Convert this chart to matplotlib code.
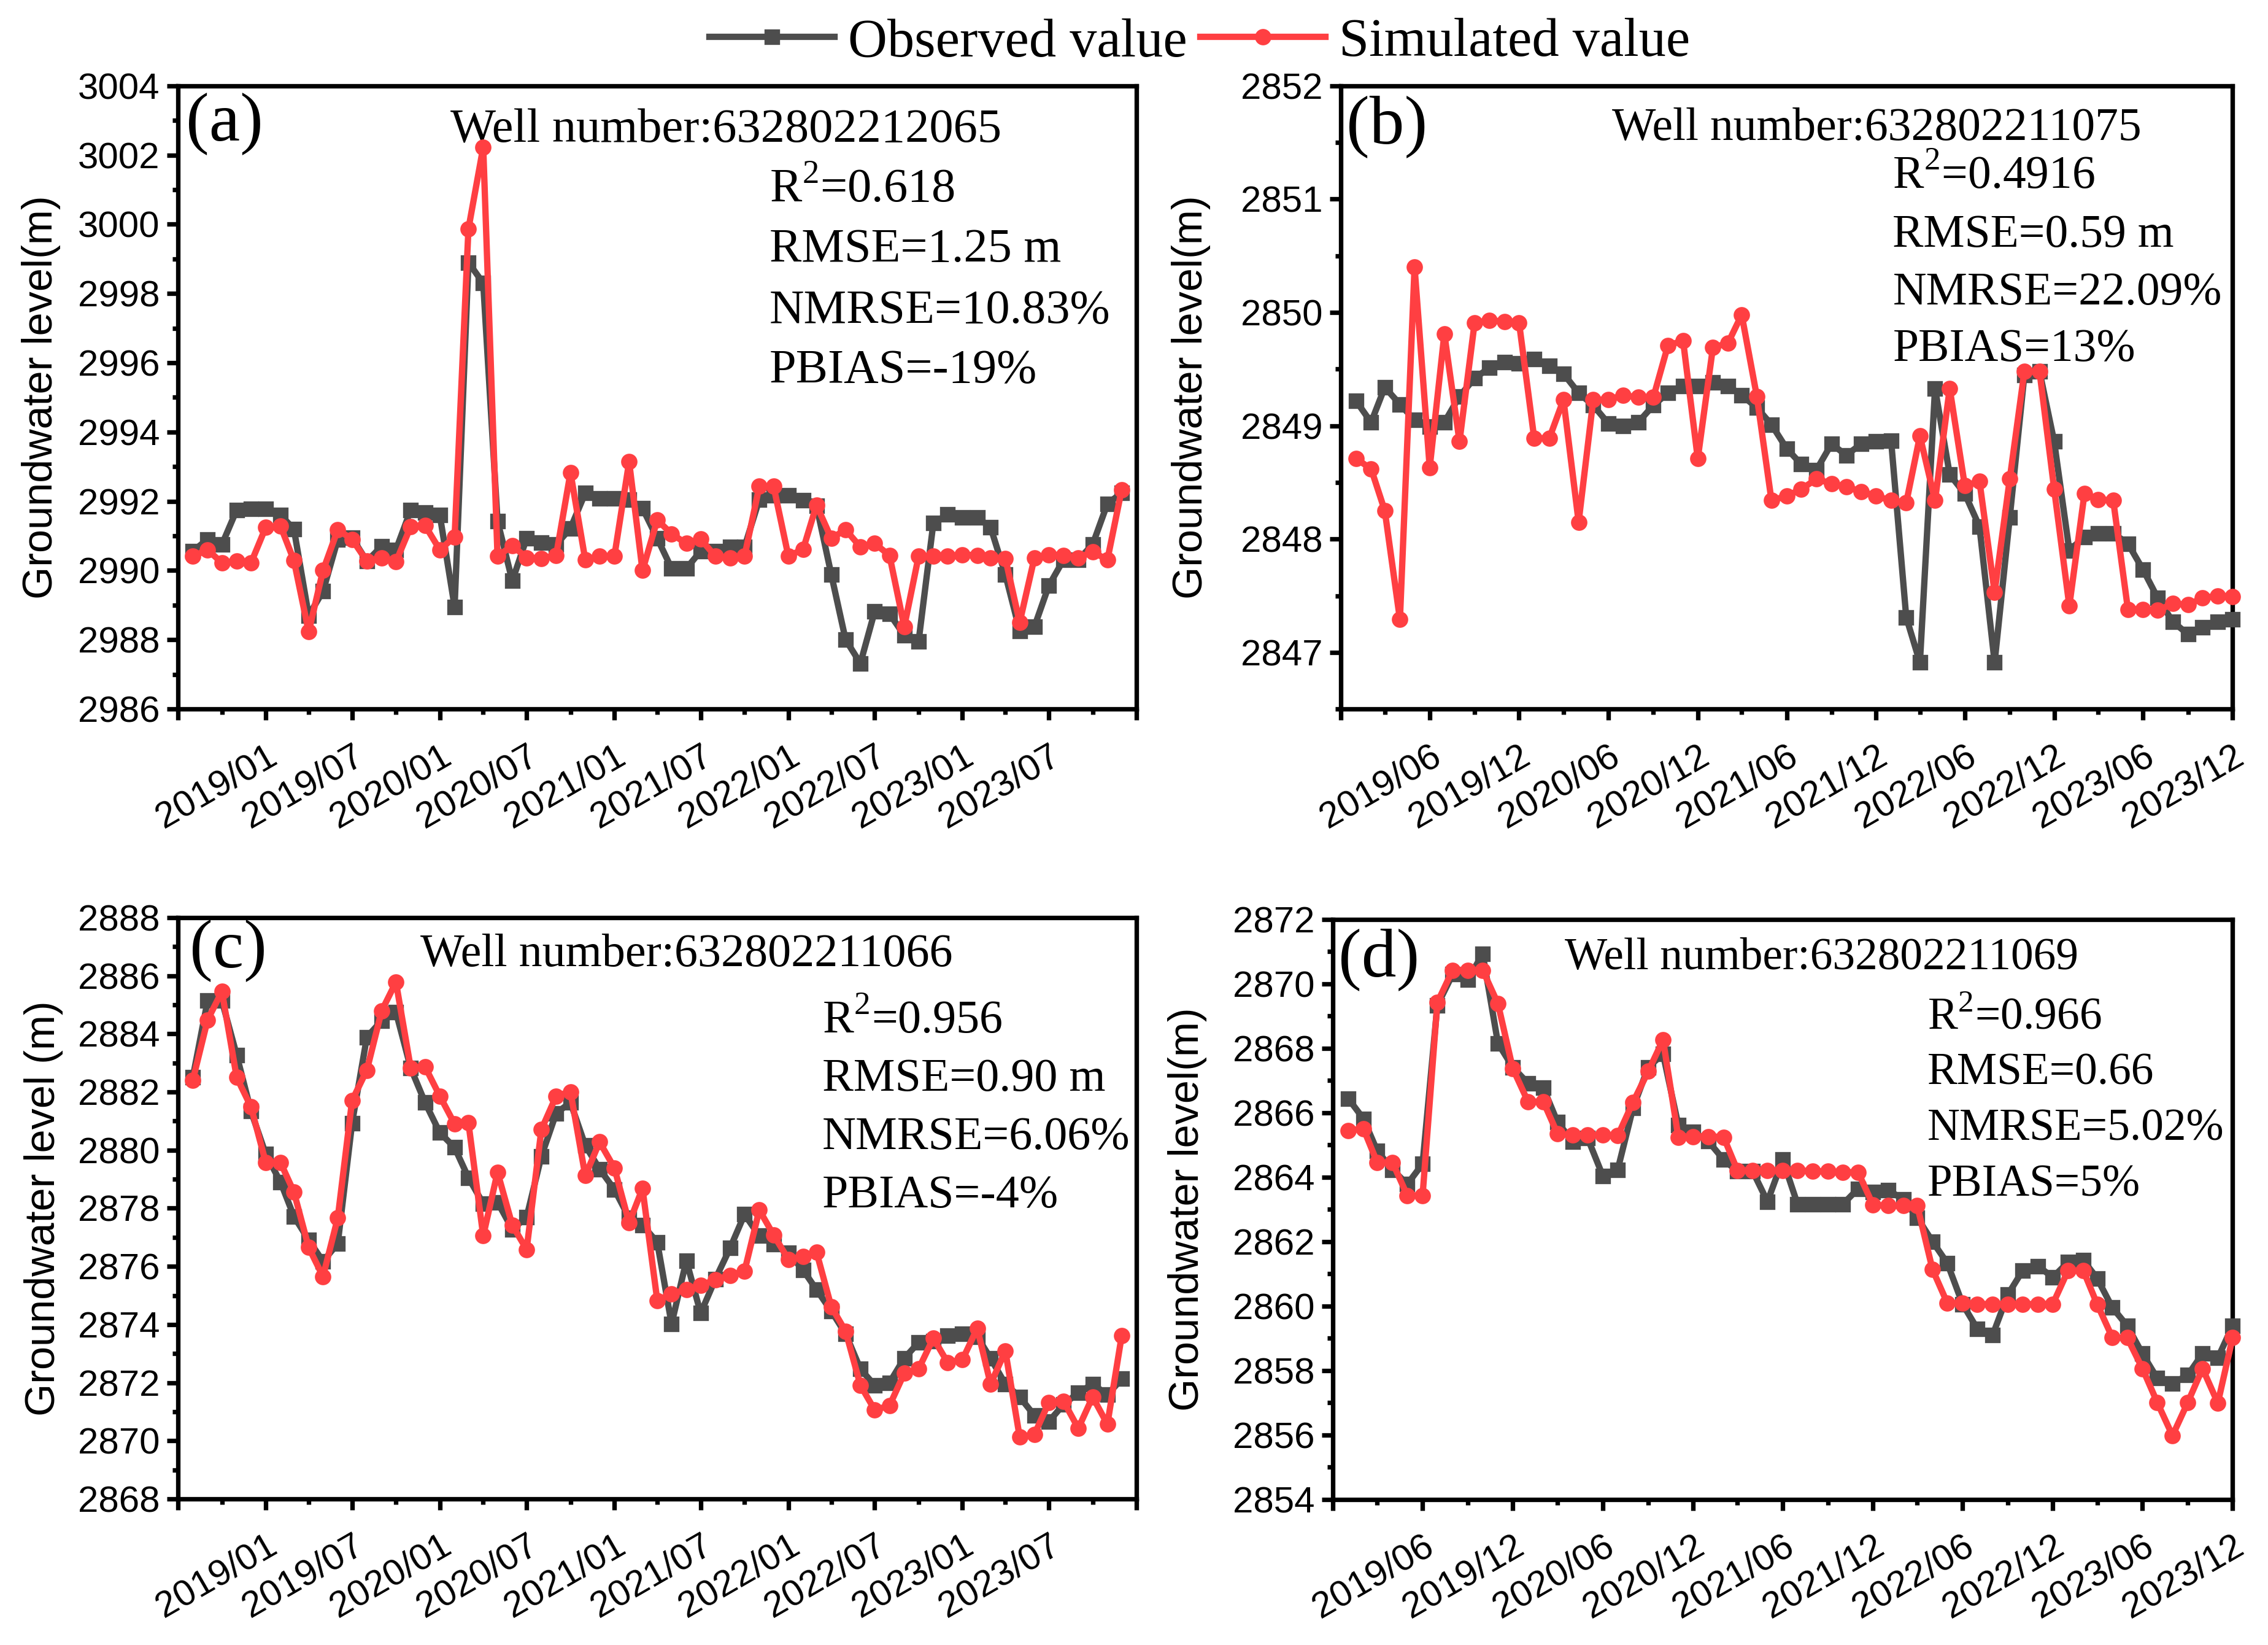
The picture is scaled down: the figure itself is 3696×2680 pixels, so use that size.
import numpy as np
import pandas as pd
import matplotlib
matplotlib.use('Agg')
import matplotlib.pyplot as plt
import matplotlib.dates as mdates
from matplotlib.ticker import MultipleLocator, FixedLocator

plt.rcParams['font.family'] = 'Liberation Sans'

# ---- data (monthly) ----
months_ac = pd.date_range('2018-08-01', '2023-12-01', freq='MS')   # panels a, c
months_bd = pd.date_range('2019-01-01', '2023-12-01', freq='MS')   # panels b, d

obs_a = [2990.56, 2990.90, 2990.75, 2991.75, 2991.78, 2991.78, 2991.60, 2991.20, 2988.70, 2989.40,
         2990.90, 2990.95, 2990.27, 2990.70, 2990.60, 2991.75, 2991.68, 2991.60, 2988.95, 2998.90,
         2998.30, 2991.43, 2989.70, 2990.93, 2990.80, 2990.75, 2991.22, 2992.24, 2992.08, 2992.08,
         2992.05, 2991.80, 2990.93, 2990.06, 2990.06, 2990.56, 2990.56, 2990.68, 2990.68, 2992.05,
         2992.18, 2992.18, 2992.03, 2991.87, 2989.88, 2988.00, 2987.32, 2988.82, 2988.75, 2988.13,
         2987.95, 2991.37, 2991.62, 2991.53, 2991.53, 2991.25, 2989.88, 2988.26, 2988.38, 2989.56,
         2990.31, 2990.31, 2990.75, 2991.93, 2992.24]
sim_a = [2990.41, 2990.60, 2990.22, 2990.27, 2990.22, 2991.25, 2991.28, 2990.29, 2988.23, 2990.00,
         2991.18, 2990.90, 2990.27, 2990.37, 2990.25, 2991.27, 2991.30, 2990.60, 2990.97, 2999.87,
         3002.23, 2990.41, 2990.72, 2990.37, 2990.35, 2990.44, 2992.83, 2990.31, 2990.41, 2990.41,
         2993.14, 2990.00, 2991.46, 2991.06, 2990.78, 2990.91, 2990.41, 2990.37, 2990.41, 2992.43,
         2992.43, 2990.41, 2990.62, 2991.89, 2990.93, 2991.18, 2990.68, 2990.78, 2990.44, 2988.38,
         2990.41, 2990.41, 2990.41, 2990.46, 2990.44, 2990.37, 2990.35, 2988.50, 2990.37, 2990.46,
         2990.44, 2990.37, 2990.54, 2990.31, 2992.34]

obs_b = [2849.22, 2849.03, 2849.34, 2849.19, 2849.05, 2848.99, 2849.03, 2849.26, 2849.42, 2849.51,
         2849.56, 2849.55, 2849.59, 2849.53, 2849.46, 2849.29, 2849.18, 2849.02, 2849.00, 2849.03,
         2849.18, 2849.29, 2849.35, 2849.35, 2849.38, 2849.35, 2849.27, 2849.16, 2849.01, 2848.80,
         2848.66, 2848.61, 2848.84, 2848.74, 2848.84, 2848.86, 2848.87, 2847.31, 2846.91, 2849.33,
         2848.57, 2848.40, 2848.11, 2846.91, 2848.19, 2849.45, 2849.48, 2848.86, 2847.90, 2848.02,
         2848.05, 2848.05, 2847.96, 2847.73, 2847.48, 2847.27, 2847.16, 2847.22, 2847.27, 2847.29]
sim_b = [2848.71, 2848.62, 2848.25, 2847.29, 2850.40, 2848.63, 2849.81, 2848.86, 2849.91, 2849.93,
         2849.92, 2849.91, 2848.89, 2848.89, 2849.23, 2848.15, 2849.23, 2849.23, 2849.27, 2849.25,
         2849.25, 2849.71, 2849.75, 2848.71, 2849.69, 2849.73, 2849.98, 2849.26, 2848.34, 2848.38,
         2848.44, 2848.53, 2848.49, 2848.46, 2848.42, 2848.38, 2848.34, 2848.32, 2848.91, 2848.34,
         2849.33, 2848.47, 2848.51, 2847.53, 2848.53, 2849.48, 2849.48, 2848.44, 2847.41, 2848.40,
         2848.35, 2848.34, 2847.38, 2847.38, 2847.37, 2847.43, 2847.42, 2847.48, 2847.50, 2847.49]

obs_c = [2882.50, 2885.14, 2885.14, 2883.27, 2881.34, 2879.86, 2878.90, 2877.72, 2876.91, 2876.17,
         2876.79, 2880.93, 2883.89, 2884.45, 2884.75, 2882.82, 2881.64, 2880.60, 2880.09, 2879.05,
         2878.16, 2878.21, 2877.28, 2877.69, 2879.79, 2881.27, 2881.64, 2880.16, 2879.35, 2878.65,
         2877.67, 2877.42, 2876.83, 2874.02, 2876.20, 2874.39, 2875.57, 2876.64, 2877.79, 2877.05,
         2876.76, 2876.46, 2875.87, 2875.20, 2874.46, 2873.68, 2872.47, 2871.91, 2872.00, 2872.84,
         2873.38, 2873.43, 2873.62, 2873.68, 2873.58, 2872.84, 2871.95, 2871.51, 2870.87, 2870.66,
         2871.25, 2871.65, 2871.95, 2871.58, 2872.13]
sim_c = [2882.41, 2884.48, 2885.46, 2882.50, 2881.49, 2879.57, 2879.57, 2878.56, 2876.65, 2875.65,
         2877.67, 2881.71, 2882.75, 2884.79, 2885.78, 2882.82, 2882.87, 2881.86, 2880.90, 2880.94,
         2877.05, 2879.24, 2877.42, 2876.58, 2880.71, 2881.86, 2882.01, 2879.12, 2880.28, 2879.39,
         2877.50, 2878.68, 2874.83, 2875.06, 2875.20, 2875.35, 2875.54, 2875.69, 2875.84, 2877.94,
         2877.08, 2876.24, 2876.34, 2876.49, 2874.61, 2873.77, 2871.91, 2871.06, 2871.21, 2872.32,
         2872.47, 2873.53, 2872.69, 2872.79, 2873.87, 2871.95, 2873.09, 2870.13, 2870.22, 2871.31,
         2871.36, 2870.43, 2871.51, 2870.57, 2873.62]

obs_d = [2866.44, 2865.81, 2864.81, 2864.23, 2863.78, 2864.41, 2869.33, 2870.29, 2870.13, 2870.92,
         2868.15, 2867.41, 2866.91, 2866.77, 2865.70, 2865.10, 2865.21, 2864.03, 2864.23, 2866.14,
         2867.41, 2867.82, 2865.61, 2865.41, 2865.11, 2864.54, 2864.18, 2864.18, 2863.24, 2864.54,
         2863.16, 2863.16, 2863.16, 2863.16, 2863.64, 2863.54, 2863.60, 2863.30, 2862.74, 2862.00,
         2861.33, 2860.06, 2859.29, 2859.10, 2860.36, 2861.10, 2861.24, 2860.89, 2861.36, 2861.42,
         2860.86, 2859.95, 2859.39, 2858.52, 2857.76, 2857.59, 2857.86, 2858.52, 2858.39, 2859.39]
sim_d = [2865.45, 2865.50, 2864.45, 2864.45, 2863.43, 2863.43, 2869.42, 2870.42, 2870.42, 2870.42,
         2869.38, 2867.37, 2866.34, 2866.34, 2865.34, 2865.30, 2865.30, 2865.30, 2865.28, 2866.32,
         2867.28, 2868.26, 2865.24, 2865.26, 2865.26, 2865.24, 2864.21, 2864.21, 2864.21, 2864.21,
         2864.21, 2864.18, 2864.18, 2864.15, 2864.15, 2863.14, 2863.11, 2863.11, 2863.11, 2861.13,
         2860.09, 2860.09, 2860.06, 2860.06, 2860.06, 2860.06, 2860.06, 2860.06, 2861.10, 2861.10,
         2860.06, 2859.02, 2859.02, 2858.06, 2857.01, 2855.98, 2857.01, 2858.06, 2856.99, 2859.02]

wells = ['632802212065', '632802211075', '632802211066', '632802211069']
stats = [['0.618', '1.25 m', '10.83%', '-19%'],
         ['0.4916', '0.59 m', '22.09%', '13%'],
         ['0.956', '0.90 m', '6.06%', '-4%'],
         ['0.966', '0.66', '5.02%', '5%']]
ylabels = ['Groundwater level(m)', 'Groundwater level(m)',
           'Groundwater level (m)', 'Groundwater level(m)']

# major ticks of the two date axes (edge ticks unlabeled)
xticks_ac = pd.date_range('2018-07-01', '2024-01-01', freq='6MS')
xticks_bd = pd.date_range('2018-12-01', '2023-12-01', freq='6MS')

# ---- layout ----
fig = plt.figure(figsize=(15.4, 2680 / 240), dpi=240)
boxes = [(0.0785, 0.569, 0.4226, 0.3788),
         (0.5912, 0.569, 0.3931, 0.3788),
         (0.0785, 0.0888, 0.4226, 0.3534),
         (0.5877, 0.0885, 0.3967, 0.3527)]
panels = [
    dict(x=months_ac, obs=obs_a, sim=sim_a, ylim=(2986, 3004), major=2, minor=1,
         xt=xticks_ac, xlim=('2018-07-01', '2024-01-01'), lab='(a)', lab_xy=(0.008, 0.99),
         well_xy=(0.284, 0.91), st_x=0.617, st_y=[0.815, 0.718, 0.620, 0.524], ylx=-0.143,
         fs=23.5),
    dict(x=months_bd, obs=obs_b, sim=sim_b, ylim=(2846.5, 2852), major=1, minor=0.5,
         xt=xticks_bd, xlim=('2018-12-01', '2023-12-01'), lab='(b)', lab_xy=(0.006, 0.985),
         well_xy=(0.304, 0.913), st_x=0.619, st_y=[0.835, 0.742, 0.649, 0.559], ylx=-0.168,
         fs=22.7),
    dict(x=months_ac, obs=obs_c, sim=sim_c, ylim=(2868, 2888), major=2, minor=1,
         xt=xticks_ac, xlim=('2018-07-01', '2024-01-01'), lab='(c)', lab_xy=(0.012, 0.998),
         well_xy=(0.253, 0.917), st_x=0.672, st_y=[0.801, 0.702, 0.602, 0.502], ylx=-0.140,
         fs=22.8),
    dict(x=months_bd, obs=obs_d, sim=sim_d, ylim=(2854, 2872), major=2, minor=1,
         xt=xticks_bd, xlim=('2018-12-01', '2023-12-01'), lab='(d)', lab_xy=(0.006, 0.985),
         well_xy=(0.258, 0.914), st_x=0.661, st_y=[0.812, 0.715, 0.619, 0.523], ylx=-0.162,
         fs=22.0),
]

black = '#4d4d4d'
red = '#ff3f42'
serif = 'Liberation Serif'

for i, p in enumerate(panels):
    ax = fig.add_axes(boxes[i])
    l1, = ax.plot(p['x'], p['obs'], color=black, lw=3.1, marker='s', ms=6.6,
                  label='Observed value', clip_on=False, zorder=3)
    l2, = ax.plot(p['x'], p['sim'], color=red, lw=3.1, marker='o', ms=7.0,
                  label='Simulated value', clip_on=False, zorder=4)
    if i == 0:
        handles = [l1, l2]

    ax.set_ylim(*p['ylim'])
    ax.yaxis.set_major_locator(MultipleLocator(p['major']))
    ax.yaxis.set_minor_locator(MultipleLocator(p['minor']))
    ax.yaxis.set_major_formatter(matplotlib.ticker.FormatStrFormatter('%d'))

    ax.set_xlim(pd.Timestamp(p['xlim'][0]), pd.Timestamp(p['xlim'][1]))
    xt = p['xt']
    labels = [d.strftime('%Y/%m') for d in xt]
    labels[0] = ''
    if xt[-1] == pd.Timestamp('2024-01-01'):
        labels[-1] = ''
    ax.set_xticks(xt, labels, rotation=30, ha='right', va='top', rotation_mode='anchor')
    minor = pd.date_range(xt[0], xt[-1], freq='3MS')
    ax.xaxis.set_minor_locator(FixedLocator(mdates.date2num(minor)))

    ax.tick_params(axis='both', which='major', direction='out', length=5.5, width=2.2,
                   labelsize=18)
    ax.tick_params(axis='both', which='minor', direction='out', length=2.6, width=2.2)
    ax.tick_params(axis='x', which='major', pad=9)
    ax.tick_params(top=False, right=False, which='both')
    for s in ax.spines.values():
        s.set_linewidth(2.2)

    ax.set_ylabel(ylabels[i], fontsize=20.5, va='center')
    ax.yaxis.set_label_coords(p['ylx'], 0.5)

    ax.text(p['lab_xy'][0], p['lab_xy'][1], p['lab'], transform=ax.transAxes,
            fontsize=34, family=serif, va='top', ha='left')
    ax.text(p['well_xy'][0], p['well_xy'][1], 'Well number:' + wells[i],
            transform=ax.transAxes, fontsize=p['fs'], family=serif, va='baseline')
    r2, rmse, nmrse, pbias = stats[i]
    lines = [r'R$^\mathregular{2}$=' + r2, 'RMSE=' + rmse, 'NMRSE=' + nmrse, 'PBIAS=' + pbias]
    for txt, yy in zip(lines, p['st_y']):
        ax.text(p['st_x'], yy, txt, transform=ax.transAxes, fontsize=p['fs'],
                family=serif, va='baseline')

fig.legend(handles=handles, loc='center', bbox_to_anchor=(0.529, 0.974), ncol=2,
           frameon=False, prop={'family': serif, 'size': 26.5}, handlelength=2.3,
           handletextpad=0.25, columnspacing=0.25, numpoints=1)

fig.savefig('out.png', dpi=240)
